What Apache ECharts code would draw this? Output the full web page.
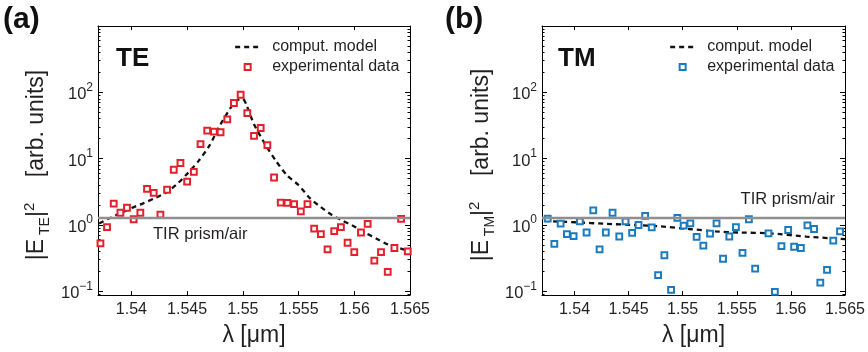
<!DOCTYPE html>
<html>
<head>
<meta charset="utf-8">
<script src="https://cdn.jsdelivr.net/npm/echarts@6/dist/echarts.min.js"></script>
<style>
  html, body { margin: 0; padding: 0; background: #fff; }
  #chart { width: 868px; height: 352px; }
</style>
</head>
<body>
<div id="chart"></div>
<script>
// ---- TE polarisation: measured intensity and computed model ----
const lambdaTE = [1.53722, 1.53781, 1.53841, 1.53901, 1.5396, 1.5402, 1.5408, 1.5414, 1.5420, 1.5426,
  1.5432, 1.5438, 1.5444, 1.5450, 1.5456, 1.5462, 1.5468, 1.5474, 1.5480, 1.5486,
  1.5492, 1.5498, 1.5504, 1.5510, 1.5516, 1.5522, 1.5528, 1.5534, 1.5540, 1.5546,
  1.5552, 1.5558, 1.5564, 1.5570, 1.5576, 1.5582, 1.5588, 1.5594, 1.5600, 1.5606,
  1.5612, 1.5618, 1.5624, 1.5630, 1.5636, 1.5642, 1.5648];
const intensityTE = [0.53, 0.93, 2.1, 1.53, 1.82, 1.22, 1.53, 3.5, 3.04, 1.43,
  3.4, 6.8, 8.6, 4.5, 6.3, 16.6, 26.5, 25.6, 25, 39,
  69, 92, 48.6, 22, 29, 16, 5.2, 2.18, 2.16, 2.07,
  1.6, 2.07, 0.88, 0.73, 0.43, 0.81, 0.93, 0.54, 0.39, 0.77,
  1.04, 0.29, 0.39, 0.197, 0.45, 1.24, 0.40];
const modelLambdaTE = [1.5371, 1.538, 1.539, 1.540, 1.541, 1.542, 1.543, 1.544, 1.545, 1.546,
  1.547, 1.548, 1.549, 1.5495, 1.5500, 1.5503, 1.551, 1.552, 1.553, 1.554,
  1.555, 1.556, 1.557, 1.558, 1.559, 1.560, 1.561, 1.562, 1.563, 1.564, 1.565];
const modelTE = [1.05, 1.26, 1.5, 1.8, 2.1, 2.5, 3.0, 4.0, 5.9, 9.1,
  15.7, 33, 62, 76, 80, 66, 33, 16.5, 9.1, 5.5,
  4.0, 2.55, 1.86, 1.41, 1.15, 0.95, 0.76, 0.62, 0.51, 0.45, 0.40];

// ---- TM polarisation ----
const lambdaTM = [1.53753, 1.53814, 1.53872, 1.5393, 1.53992, 1.5405, 1.54112, 1.54174, 1.54232, 1.5429,
  1.54352, 1.54414, 1.54472, 1.54533, 1.54592, 1.54653, 1.54714, 1.54773, 1.54831, 1.54893,
  1.54951, 1.55009, 1.55071, 1.55129, 1.55191, 1.55253, 1.55313, 1.55373, 1.55431, 1.55492,
  1.55553, 1.55612, 1.5567, 1.55793, 1.55852, 1.55913, 1.55975, 1.5603, 1.56092, 1.56153,
  1.56214, 1.56272, 1.56334, 1.56392, 1.56454];
const intensityTM = [1.25, 0.52, 1.05, 0.73, 0.68, 1.13, 0.77, 1.66, 0.43, 0.77,
  1.53, 0.67, 1.13, 0.76, 1.0, 1.37, 0.92, 0.176, 0.35, 0.105,
  1.28, 0.98, 1.06, 0.66, 0.49, 0.74, 1.06, 0.31, 0.67, 0.93,
  0.38, 1.22, 0.22, 0.75, 0.098, 0.48, 0.84, 0.47, 0.45, 0.99,
  0.87, 0.135, 0.21, 0.58, 0.8];
const modelLambdaTM = [1.5372, 1.540, 1.543, 1.5455, 1.548, 1.5506, 1.553, 1.5552, 1.558, 1.5614, 1.565];
const modelTM = [1.15, 1.1, 1.04, 1.0, 0.95, 0.87, 0.8, 0.77, 0.75, 0.67, 0.61];

// total internal reflection reference level (prism/air)
const tirLevel = 1.3;

// axes
const lambdaMin = 1.537, lambdaMax = 1.565;
const intensityMin = 0.088, intensityMax = 1000;
const lambdaTicks = [1.54, 1.545, 1.55, 1.555, 1.56, 1.565];
const lambdaTickLabels = ['1.54', '1.545', '1.55', '1.555', '1.56', '1.565'];
const decadeTicks = [0.1, 1, 10, 100];
const minorTicks = [0.09, 0.2, 0.3, 0.4, 0.5, 0.6, 0.7, 0.8, 0.9,
  2, 3, 4, 5, 6, 7, 8, 9, 20, 30, 40, 50, 60, 70, 80, 90,
  200, 300, 400, 500, 600, 700, 800, 900];

const FONT = '"Liberation Sans", Arial, Helvetica, sans-serif';
const TEXT = '#231f20';
const RED = '#e3202b';
const BLUE = '#1b7bbf';
const MODEL_LINE = { color: '#111', width: 2.3, type: [5, 4] };

const zip = (xs, ys) => xs.map((x, i) => [x, ys[i]]);

const panels = [
  { grid: { left: 98, top: 26, width: 312, height: 273 }, lambda: lambdaTE, values: intensityTE,
    modelLambda: modelLambdaTE, model: modelTE, color: RED, legendLeft: 229,
    tirLabel: { position: 'insideStartBottom', distance: [55, 9] } },
  { grid: { left: 542, top: 26, width: 304, height: 273 }, lambda: lambdaTM, values: intensityTM,
    modelLambda: modelLambdaTM, model: modelTM, color: BLUE, legendLeft: 664,
    tirLabel: { position: 'insideEndTop', distance: [10, 9] } }
];

function lambdaLabel(v) {
  const i = lambdaTicks.findIndex(t => Math.abs(t - v) < 1e-6);
  return i >= 0 ? lambdaTickLabels[i] : '';
}

function decadeLabel(v) {
  const e = Math.round(Math.log10(v));
  return '{m|10}{e|' + (e < 0 ? '\u2212' + (-e) : e) + '}';
}

const grids = [], xAxes = [], yAxes = [], series = [], legends = [];

panels.forEach((p, gi) => {
  grids.push(p.grid);
  const axisLine = { onZero: false, lineStyle: { color: '#000', width: 1 } };
  ['bottom', 'top'].forEach(pos => {
    xAxes.push({
      gridIndex: gi, type: 'value', position: pos, min: lambdaMin, max: lambdaMax,
      name: pos === 'bottom' ? '\u03bb [\u03bcm]' : '', nameLocation: 'middle', nameGap: 29,
      nameTextStyle: { fontFamily: FONT, fontSize: 23, color: TEXT },
      axisLine,
      axisTick: { show: true, inside: true, length: 4, customValues: lambdaTicks, lineStyle: { color: '#000' } },
      axisLabel: { show: pos === 'bottom', customValues: lambdaTicks, formatter: lambdaLabel,
        fontFamily: FONT, fontSize: 16, color: TEXT, margin: 7 },
      splitLine: { show: false }
    });
  });
  ['left', 'right'].forEach(pos => {
    // decades with labels
    yAxes.push({
      gridIndex: gi, type: 'log', logBase: 10, position: pos, min: intensityMin, max: intensityMax,
      axisLine,
      axisTick: { show: true, inside: true, length: 5, customValues: decadeTicks, lineStyle: { color: '#000' } },
      axisLabel: { show: pos === 'left', customValues: decadeTicks, formatter: decadeLabel, margin: 5,
        rich: {
          m: { fontFamily: FONT, fontSize: 16.5, color: TEXT, lineHeight: 22, verticalAlign: 'bottom' },
          e: { fontFamily: FONT, fontSize: 12, color: TEXT, lineHeight: 12, verticalAlign: 'top' }
        } },
      splitLine: { show: false }
    });
    // minor ticks between decades
    yAxes.push({
      gridIndex: gi, type: 'log', logBase: 10, position: pos, min: intensityMin, max: intensityMax,
      axisLine: { show: false },
      axisTick: { show: true, inside: true, length: 2.5, customValues: minorTicks, lineStyle: { color: '#000' } },
      axisLabel: { show: false },
      splitLine: { show: false }
    });
  });
  const xi = gi * 2, yi = gi * 4;
  series.push({
    name: 'comput. model', type: 'line', xAxisIndex: xi, yAxisIndex: yi,
    data: zip(p.modelLambda, p.model), symbol: 'none', showSymbol: false, smooth: 0.2,
    itemStyle: { color: '#111', opacity: 0 },
    lineStyle: MODEL_LINE, z: 3,
    markLine: {
      silent: true, symbol: 'none', animation: false,
      lineStyle: { color: '#8f8f8f', width: 2.3, type: 'solid', opacity: 1 },
      label: { show: true, formatter: 'TIR prism/air', position: p.tirLabel.position,
        distance: p.tirLabel.distance, fontFamily: FONT, fontSize: 16.5, color: TEXT },
      data: [{ yAxis: tirLevel }]
    }
  });
  series.push({
    name: 'experimental data', type: 'scatter', xAxisIndex: xi, yAxisIndex: yi,
    data: zip(p.lambda, p.values), symbol: 'rect', symbolSize: 5.8,
    itemStyle: { color: '#fff', borderColor: p.color, borderWidth: 2, opacity: 1 }, z: 4
  });
  legends.push({
    orient: 'vertical', left: p.legendLeft, top: 34, itemGap: 4, itemWidth: 25, itemHeight: 6,
    selectedMode: false,
    textStyle: { fontFamily: FONT, fontSize: 16, color: TEXT, lineHeight: 16, padding: [0, 0, 0, 7] },
    data: [
      { name: 'comput. model', lineStyle: MODEL_LINE, itemStyle: { opacity: 0 } },
      { name: 'experimental data', icon: 'path://M0,0h10v10h-10z',
        itemStyle: { color: '#fff', borderColor: p.color, borderWidth: 2 } }
    ]
  });
});

const titleRich = {
  n: { fontFamily: FONT, fontSize: 23, fill: TEXT, lineHeight: 30, verticalAlign: 'middle' },
  sb: { fontFamily: FONT, fontSize: 14, fill: TEXT, lineHeight: 14, verticalAlign: 'bottom' },
  sp: { fontFamily: FONT, fontSize: 15, fill: TEXT, lineHeight: 15, verticalAlign: 'top' }
};

function yTitle(x, sub) {
  return {
    type: 'text', x: x, y: 165, rotation: Math.PI / 2,
    style: {
      text: '{n||E}{sb| ' + sub + '}{n||}{sp|2}{n|    [arb. units]}',
      rich: titleRich, align: 'center', verticalAlign: 'middle'
    }
  };
}

const bold = (text, x, y, size) => ({
  type: 'text', x, y,
  style: { text, fontFamily: FONT, fontWeight: 'bold', fontSize: size, fill: '#111',
    align: 'left', verticalAlign: 'middle' }
});

const chart = echarts.init(document.getElementById('chart'), null, { renderer: 'canvas' });
chart.setOption({
  animation: false,
  backgroundColor: '#fff',
  grid: grids,
  xAxis: xAxes,
  yAxis: yAxes,
  legend: legends,
  series: series,
  graphic: [
    bold('(a)', 3, 20, 30),
    bold('(b)', 445, 20, 30),
    bold('TE', 116, 59, 26),
    bold('TM', 558, 59, 26),
    yTitle(37, 'TE'),
    yTitle(482, 'TM')
  ]
});
</script>
</body>
</html>
